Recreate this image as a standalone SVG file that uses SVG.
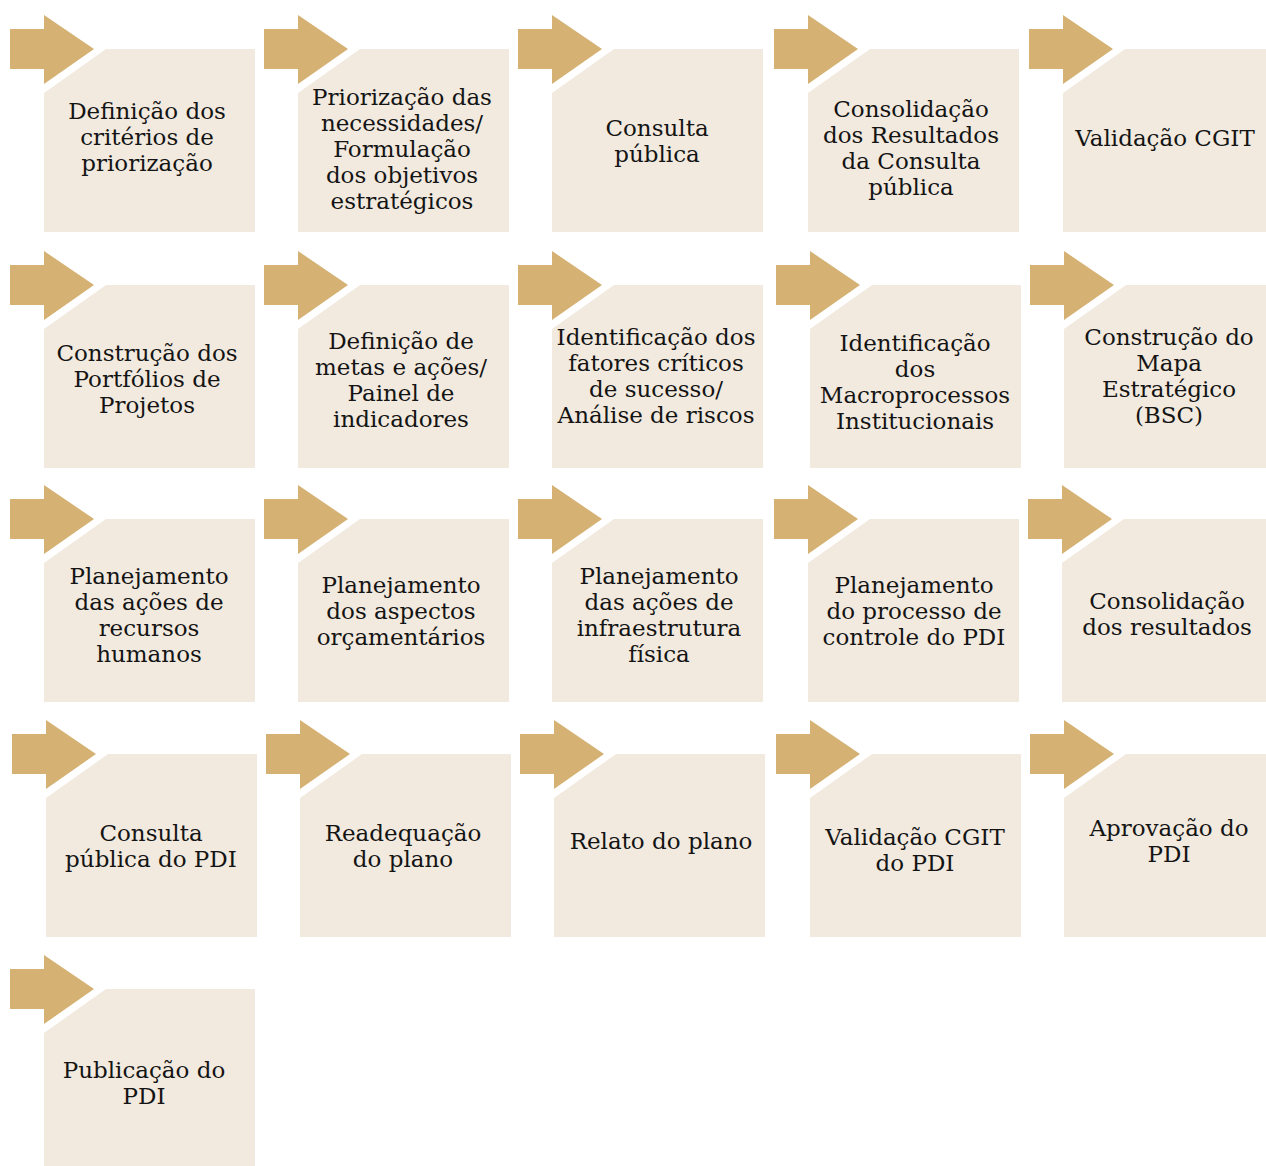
<svg xmlns="http://www.w3.org/2000/svg" xmlns:xlink="http://www.w3.org/1999/xlink" width="1266" height="1166" viewBox="0 0 1266 1166">
<style>
.arr{fill:#D5B274}
.box{fill:#F2EADF}
text{font-family:"DejaVu Serif","Liberation Serif",serif;font-size:23px;fill:#141414;text-anchor:middle}
</style>
<defs>
<path id="arrow" d="M0,-20 H34 V-34 L84,0 L34,35 V20 H0 Z"/>
<path id="box" d="M34,44 L96,0 H245 V183 H34 Z"/>
</defs>
<rect width="1266" height="1166" fill="#FFFFFF"/>
<g id="connectors">
<use href="#arrow" class="arr" x="10" y="49"/>
<use href="#arrow" class="arr" x="264" y="49"/>
<use href="#arrow" class="arr" x="518" y="49"/>
<use href="#arrow" class="arr" x="774" y="49"/>
<use href="#arrow" class="arr" x="1029" y="49"/>
<use href="#arrow" class="arr" x="10" y="285"/>
<use href="#arrow" class="arr" x="264" y="285"/>
<use href="#arrow" class="arr" x="518" y="285"/>
<use href="#arrow" class="arr" x="776" y="285"/>
<use href="#arrow" class="arr" x="1030" y="285"/>
<use href="#arrow" class="arr" x="10" y="519"/>
<use href="#arrow" class="arr" x="264" y="519"/>
<use href="#arrow" class="arr" x="518" y="519"/>
<use href="#arrow" class="arr" x="774" y="519"/>
<use href="#arrow" class="arr" x="1028" y="519"/>
<use href="#arrow" class="arr" x="12" y="754"/>
<use href="#arrow" class="arr" x="266" y="754"/>
<use href="#arrow" class="arr" x="520" y="754"/>
<use href="#arrow" class="arr" x="776" y="754"/>
<use href="#arrow" class="arr" x="1030" y="754"/>
<use href="#arrow" class="arr" x="10" y="989"/>
</g>
<g id="n1"><use href="#box" class="box" x="10" y="49"/><text><tspan x="147" y="119">Definição dos</tspan><tspan x="147" y="145">critérios de</tspan><tspan x="147" y="171">priorização</tspan></text></g>
<g id="n2"><use href="#box" class="box" x="264" y="49"/><text><tspan x="402" y="105">Priorização das</tspan><tspan x="402" y="131">necessidades/</tspan><tspan x="402" y="157">Formulação</tspan><tspan x="402" y="183">dos objetivos</tspan><tspan x="402" y="209">estratégicos</tspan></text></g>
<g id="n3"><use href="#box" class="box" x="518" y="49"/><text><tspan x="657" y="136">Consulta</tspan><tspan x="657" y="162">pública</tspan></text></g>
<g id="n4"><use href="#box" class="box" x="774" y="49"/><text><tspan x="911" y="117">Consolidação</tspan><tspan x="911" y="143">dos Resultados</tspan><tspan x="911" y="169">da Consulta</tspan><tspan x="911" y="195">pública</tspan></text></g>
<g id="n5"><use href="#box" class="box" x="1029" y="49"/><text><tspan x="1165" y="146">Validação CGIT</tspan></text></g>
<g id="n6"><use href="#box" class="box" x="10" y="285"/><text><tspan x="147" y="361">Construção dos</tspan><tspan x="147" y="387">Portfólios de</tspan><tspan x="147" y="413">Projetos</tspan></text></g>
<g id="n7"><use href="#box" class="box" x="264" y="285"/><text><tspan x="401" y="349">Definição de</tspan><tspan x="401" y="375">metas e ações/</tspan><tspan x="401" y="401">Painel de</tspan><tspan x="401" y="427">indicadores</tspan></text></g>
<g id="n8"><use href="#box" class="box" x="518" y="285"/><text><tspan x="656" y="345">Identificação dos</tspan><tspan x="656" y="371">fatores críticos</tspan><tspan x="656" y="397">de sucesso/</tspan><tspan x="656" y="423">Análise de riscos</tspan></text></g>
<g id="n9"><use href="#box" class="box" x="776" y="285"/><text><tspan x="915" y="351">Identificação</tspan><tspan x="915" y="377">dos</tspan><tspan x="915" y="403">Macroprocessos</tspan><tspan x="915" y="429">Institucionais</tspan></text></g>
<g id="n10"><use href="#box" class="box" x="1030" y="285"/><text><tspan x="1169" y="345">Construção do</tspan><tspan x="1169" y="371">Mapa</tspan><tspan x="1169" y="397">Estratégico</tspan><tspan x="1169" y="423">(BSC)</tspan></text></g>
<g id="n11"><use href="#box" class="box" x="10" y="519"/><text><tspan x="149" y="584">Planejamento</tspan><tspan x="149" y="610">das ações de</tspan><tspan x="149" y="636">recursos</tspan><tspan x="149" y="662">humanos</tspan></text></g>
<g id="n12"><use href="#box" class="box" x="264" y="519"/><text><tspan x="401" y="593">Planejamento</tspan><tspan x="401" y="619">dos aspectos</tspan><tspan x="401" y="645">orçamentários</tspan></text></g>
<g id="n13"><use href="#box" class="box" x="518" y="519"/><text><tspan x="659" y="584">Planejamento</tspan><tspan x="659" y="610">das ações de</tspan><tspan x="659" y="636">infraestrutura</tspan><tspan x="659" y="662">física</tspan></text></g>
<g id="n14"><use href="#box" class="box" x="774" y="519"/><text><tspan x="914" y="593">Planejamento</tspan><tspan x="914" y="619">do processo de</tspan><tspan x="914" y="645">controle do PDI</tspan></text></g>
<g id="n15"><use href="#box" class="box" x="1028" y="519"/><text><tspan x="1167" y="609">Consolidação</tspan><tspan x="1167" y="635">dos resultados</tspan></text></g>
<g id="n16"><use href="#box" class="box" x="12" y="754"/><text><tspan x="151" y="841">Consulta</tspan><tspan x="151" y="867">pública do PDI</tspan></text></g>
<g id="n17"><use href="#box" class="box" x="266" y="754"/><text><tspan x="403" y="841">Readequação</tspan><tspan x="403" y="867">do plano</tspan></text></g>
<g id="n18"><use href="#box" class="box" x="520" y="754"/><text><tspan x="661" y="849">Relato do plano</tspan></text></g>
<g id="n19"><use href="#box" class="box" x="776" y="754"/><text><tspan x="915" y="845">Validação CGIT</tspan><tspan x="915" y="871">do PDI</tspan></text></g>
<g id="n20"><use href="#box" class="box" x="1030" y="754"/><text><tspan x="1169" y="836">Aprovação do</tspan><tspan x="1169" y="862">PDI</tspan></text></g>
<g id="n21"><use href="#box" class="box" x="10" y="989"/><text><tspan x="144" y="1078">Publicação do</tspan><tspan x="144" y="1104">PDI</tspan></text></g>
</svg>
